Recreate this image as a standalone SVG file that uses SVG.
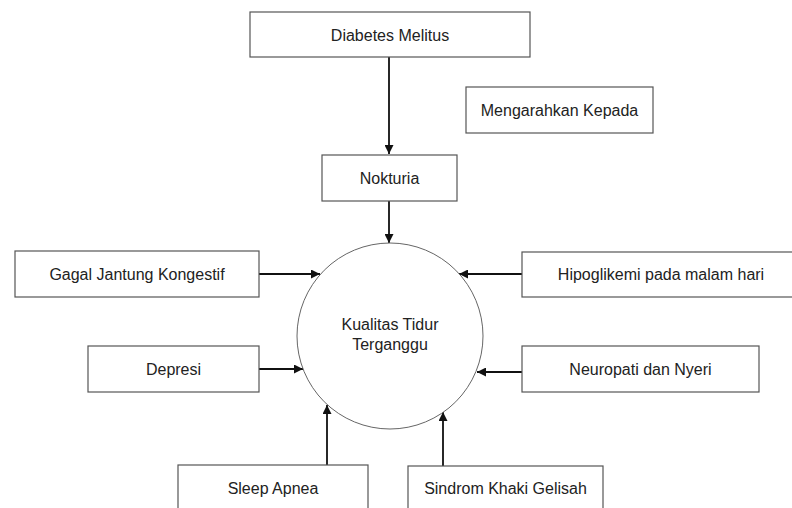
<svg xmlns="http://www.w3.org/2000/svg" width="792" height="508" viewBox="0 0 792 508">
<style>
.box{fill:#fff;stroke:#555;stroke-width:1.2}
.lbl{font-family:"Liberation Sans",Arial,sans-serif;font-size:16px;fill:#222;text-anchor:middle}
.con{stroke:#111;stroke-width:1.8;fill:none;marker-end:url(#ah)}
</style>
<defs>
<marker id="ah" viewBox="0 0 10 10" refX="10" refY="5" markerWidth="10" markerHeight="9" markerUnits="userSpaceOnUse" orient="auto">
<path d="M0,0 L10,5 L0,10 z" fill="#111"/>
</marker>
</defs>
<rect width="792" height="508" fill="#fff"/>
<g id="connectors">
<line class="con" x1="389" y1="57" x2="389" y2="154"/>
<line class="con" x1="389" y1="201" x2="389" y2="243"/>
<line class="con" x1="259" y1="274" x2="320" y2="274"/>
<line class="con" x1="522" y1="274" x2="459" y2="274"/>
<line class="con" x1="259" y1="369" x2="303" y2="369"/>
<line class="con" x1="522" y1="372" x2="477" y2="372"/>
<line class="con" x1="327" y1="465" x2="327" y2="405"/>
<line class="con" x1="443" y1="466" x2="443" y2="412"/>
</g>
<g id="diabetes"><rect class="box" x="250" y="12" width="280" height="45"/><text class="lbl" x="390" y="41">Diabetes Melitus</text></g>
<g id="mengarahkan"><rect class="box" x="466" y="87" width="187" height="46"/><text class="lbl" x="559.5" y="116">Mengarahkan Kepada</text></g>
<g id="nokturia"><rect class="box" x="322" y="155" width="135" height="46"/><text class="lbl" x="389.5" y="184">Nokturia</text></g>
<g id="kualitas"><circle cx="390" cy="336" r="93" fill="#fff" stroke="#666" stroke-width="1"/><text class="lbl" x="390" y="330">Kualitas Tidur</text><text class="lbl" x="390" y="350">Terganggu</text></g>
<g id="gagal"><rect class="box" x="15" y="251" width="244" height="46"/><text class="lbl" x="137" y="280">Gagal Jantung Kongestif</text></g>
<g id="hipoglikemi"><rect class="box" x="522" y="252" width="280" height="45"/><text class="lbl" x="661" y="280">Hipoglikemi pada malam hari</text></g>
<g id="depresi"><rect class="box" x="88" y="346" width="171" height="46"/><text class="lbl" x="173.5" y="375">Depresi</text></g>
<g id="neuropati"><rect class="box" x="522" y="346" width="237" height="46"/><text class="lbl" x="640.5" y="375">Neuropati dan Nyeri</text></g>
<g id="sleep"><rect class="box" x="178" y="465" width="190" height="60"/><text class="lbl" x="273" y="494">Sleep Apnea</text></g>
<g id="sindrom"><rect class="box" x="408" y="466" width="195" height="60"/><text class="lbl" x="505.5" y="494">Sindrom Khaki Gelisah</text></g>
</svg>
